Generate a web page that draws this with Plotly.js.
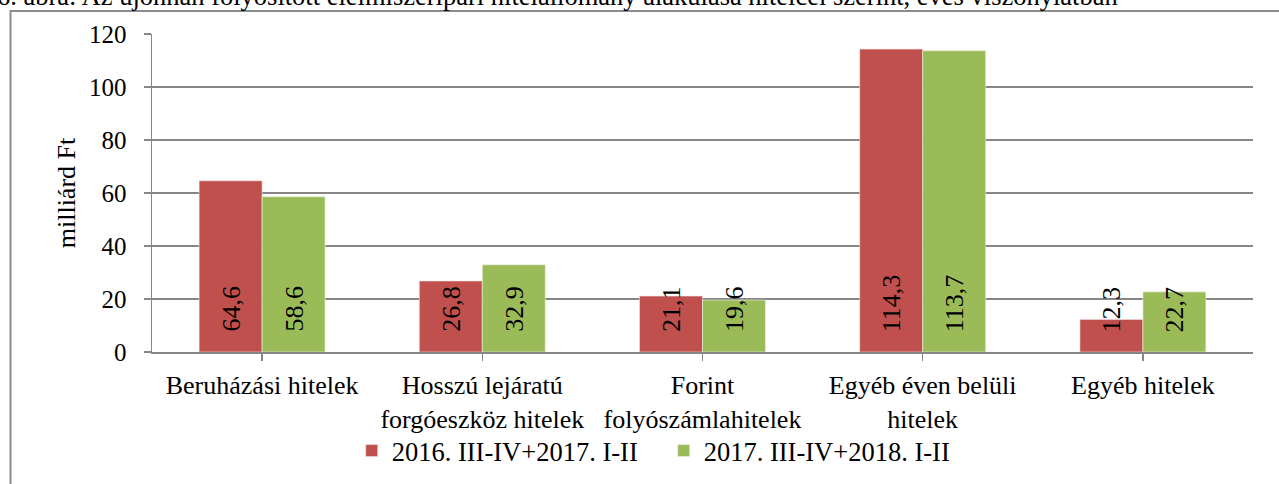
<!DOCTYPE html>
<html><head><meta charset="utf-8">
<script src="https://cdn.plot.ly/plotly-3.0.1.min.js"></script>
<style>html,body{margin:0;padding:0;background:#fff;}#chart{width:1279px;height:484px;}</style>
</head><body><div id="chart"></div>
<script>
const categories = ["Beruházási hitelek", "Hosszú lejáratú<br>forgóeszköz hitelek", "Forint<br>folyószámlahitelek", "Egyéb éven belüli<br>hitelek", "Egyéb hitelek"];
const seriesNames = ["2016. III-IV+2017. I-II", "2017. III-IV+2018. I-II"];
const series1 = [64.6, 26.8, 21.1, 114.3, 12.3];
const series2 = [58.6, 32.9, 19.6, 113.7, 22.7];
const labels1 = ["64,6", "26,8", "21,1", "114,3", "12,3"];
const labels2 = ["58,6", "32,9", "19,6", "113,7", "22,7"];
const colors = ["#C0504D", "#9BBB59"];
const title = "6. ábra: Az újonnan folyósított élelmiszeripari hitelállomány alakulása hitelcél szerint, éves viszonylatban";

const FONT = "Liberation Serif";
const xIdx = categories.map((c, i) => i);

const traces = [
  {type: "bar", name: seriesNames[0], x: xIdx, y: series1, marker: {color: colors[0], line: {color: "#f4e4e4", width: 0.6}}},
  {type: "bar", name: seriesNames[1], x: xIdx, y: series2, marker: {color: colors[1], line: {color: "#eef4e4", width: 0.6}}}
];

const off = 0.143;
const annotations = [];
[[series1, labels1, -off], [series2, labels2, off]].forEach(([vals, labs, dx]) => {
  vals.forEach((v, i) => {
    annotations.push({x: i + dx, y: 0, xref: "x", yref: "y", text: labs[i], showarrow: false,
      textangle: -90, xanchor: "center", yanchor: "bottom", yshift: 18,
      font: {family: FONT, size: 26, color: "#000"}});
  });
});
annotations.push({xref: "paper", yref: "paper", x: -0.1425, y: 1.0675, xanchor: "left", yanchor: "bottom",
  text: title, showarrow: false, font: {family: FONT, size: 26.5, color: "#000"}});

const layout = {
  width: 1279, height: 484,
  margin: {l: 152, r: 26, t: 34, b: 132, autoexpand: false},
  paper_bgcolor: "#fff", plot_bgcolor: "#fff",
  font: {family: FONT, size: 26, color: "#000"},
  barmode: "group", bargap: 0.428, bargroupgap: 0,
  showlegend: true,
  legend: {orientation: "h", x: 0.1814, xanchor: "left", y: -0.311, yanchor: "middle",
    entrywidth: 267, entrywidthmode: "pixels",
    font: {family: FONT, size: 26.5}, traceorder: "normal", bgcolor: "rgba(0,0,0,0)"},
  xaxis: {
    tickmode: "array", tickvals: xIdx, ticktext: categories,
    range: [-0.5, 4.5], showgrid: false, zeroline: false,
    showline: true, linecolor: "#868686", linewidth: 1.5,
    ticks: "outside", tickson: "boundaries", ticklen: 7, tickcolor: "#868686", tickwidth: 1.5,
    tickfont: {family: FONT, size: 26}, tickangle: 0, ticklabelstandoff: 2, fixedrange: true
  },
  yaxis: {
    range: [0, 120], tickvals: [0, 20, 40, 60, 80, 100, 120],
    showgrid: true, gridcolor: "#868686", gridwidth: 1.5, zeroline: false,
    showline: true, linecolor: "#868686", linewidth: 1.5,
    ticks: "outside", ticklen: 7, tickcolor: "#868686", tickwidth: 1.5,
    tickfont: {family: FONT, size: 25}, ticklabelstandoff: 12,
    title: {text: "milliárd Ft", font: {family: FONT, size: 26}, standoff: 6}
  },
  annotations: annotations,
  shapes: [{type: "rect", xref: "paper", yref: "paper", x0: -0.1285, x1: 1.03, y0: -0.45, y1: 1.0723,
    line: {color: "#8c8c8c", width: 2}, fillcolor: "rgba(0,0,0,0)", layer: "below"}]
};

Plotly.newPlot("chart", traces, layout, {displayModeBar: false, staticPlot: true});
</script>
</body></html>
